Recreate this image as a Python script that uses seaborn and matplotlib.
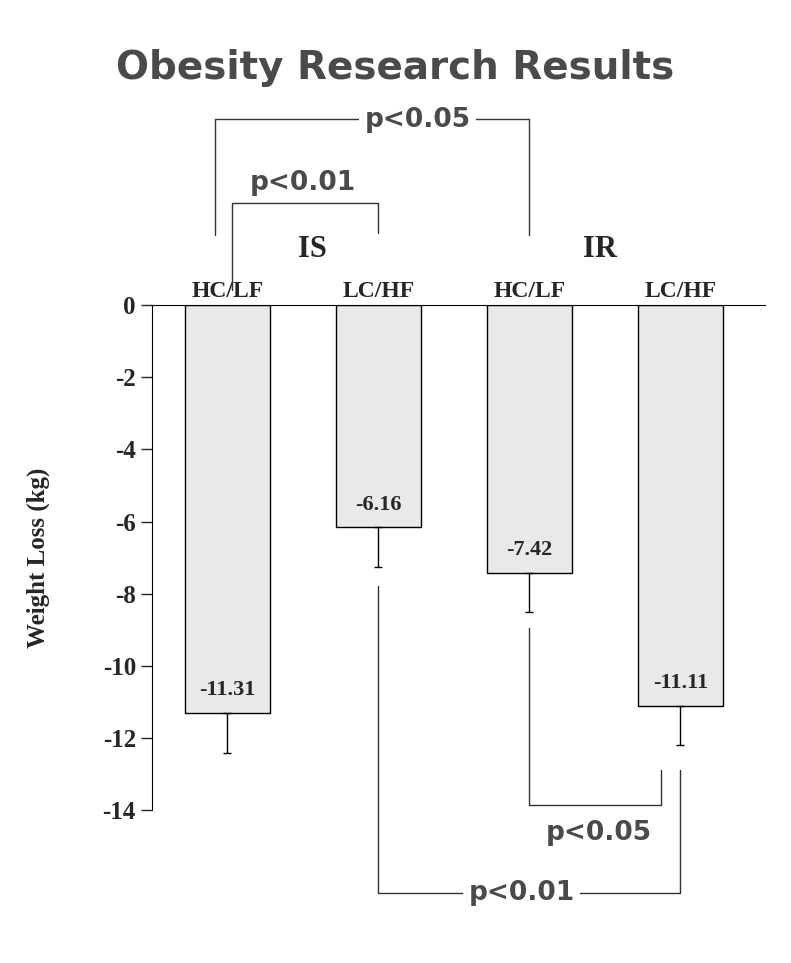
import matplotlib
matplotlib.use("Agg")
import matplotlib.pyplot as plt
import seaborn as sns
import pandas as pd

groups = ["HC/LF", "LC/HF", "HC/LF", "LC/HF"]
loss = [-11.31, -6.16, -7.42, -11.11]
err = [1.1, 1.1, 1.1, 1.1]
yticks = [0, -2, -4, -6, -8, -10, -12, -14]

sns.set_style("white")
serif = "Liberation Serif"
grey = "#4a4a4a"

fig = plt.figure(figsize=(7.91, 9.63), dpi=100)
ax = fig.add_axes([0.192, 0.159, 0.775, 0.524])
df = pd.DataFrame({"pos": range(4), "loss": loss})
sns.barplot(data=df, x="pos", y="loss", color="#e9e9e9", edgecolor="black",
            linewidth=1, width=0.56, ax=ax, saturation=1, errorbar=None)
ax.errorbar(range(4), loss, yerr=[err, [0] * 4], fmt="none", ecolor="black",
            elinewidth=1, capsize=3)
ax.set_xlim(-0.5, 3.56)
ax.set_ylim(-14, 0)
ax.set_xticks([])
ax.set_yticks(yticks)
ax.set_yticklabels([str(t) for t in yticks], fontfamily=serif, fontweight="bold", fontsize=18)
ax.tick_params(axis="y", left=True, length=8, width=1, direction="out")
for s in ["right", "bottom"]:
    ax.spines[s].set_visible(False)
ax.spines["left"].set_color("black")
ax.spines["top"].set_color("black")
ax.set_xlabel("")
ax.set_ylabel("Weight Loss (kg)", fontfamily=serif, fontweight="bold", fontsize=18, labelpad=38)

for i, (g, v) in enumerate(zip(groups, loss)):
    ax.text(i, 0.1, g, ha="center", va="bottom", fontfamily=serif, fontweight="bold", fontsize=17)
    ax.text(i, v + 0.35, f"{v:.2f}", ha="center", va="bottom", fontfamily=serif,
            fontweight="bold", fontsize=16)

ax.text(0.56, 1.55, "IS", ha="center", va="center", fontfamily=serif, fontweight="bold", fontsize=22)
ax.text(2.47, 1.55, "IR", ha="center", va="center", fontfamily=serif, fontweight="bold", fontsize=22)

kw = dict(color="#333333", lw=1, clip_on=False)
box = dict(facecolor="white", edgecolor="none", pad=4)
# top brackets
ax.plot([0.03, 0.03, 1.0, 1.0], [0.42, 2.83, 2.83, 2.0], **kw)
ax.text(0.5, 3.4, "p<0.01", ha="center", va="center", color=grey, fontweight="bold", fontsize=19)
ax.plot([-0.08, -0.08, 2.0, 2.0], [1.94, 5.18, 5.18, 1.94], **kw)
ax.text(1.26, 5.15, "p<0.05", ha="center", va="center", color=grey, fontweight="bold", fontsize=19,
        bbox=box)
# bottom brackets
ax.plot([2.0, 2.0, 2.87, 2.87], [-8.95, -13.86, -13.86, -12.9], **kw)
ax.text(2.46, -14.65, "p<0.05", ha="center", va="center", color=grey, fontweight="bold", fontsize=19)
ax.plot([1.0, 1.0, 3.0, 3.0], [-7.8, -16.3, -16.3, -12.9], **kw)
ax.text(1.95, -16.3, "p<0.01", ha="center", va="center", color=grey, fontweight="bold", fontsize=19,
        bbox=box)

fig.text(0.5, 0.929, "Obesity Research Results", ha="center", va="center", color=grey,
         fontweight="heavy", fontsize=28, fontfamily="DejaVu Sans")
fig.savefig("out.png", dpi=100)
